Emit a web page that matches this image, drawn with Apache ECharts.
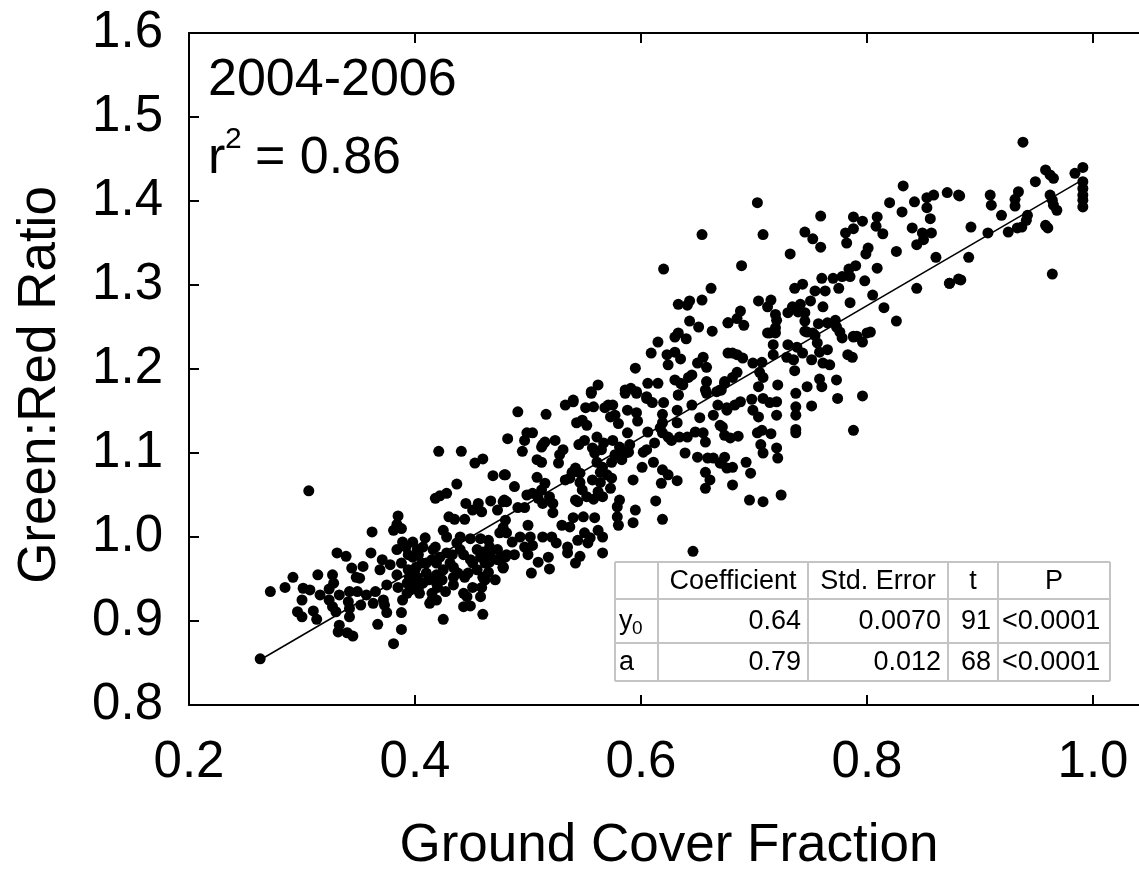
<!DOCTYPE html>
<html>
<head>
<meta charset="utf-8">
<script src="https://cdn.jsdelivr.net/npm/echarts@6/dist/echarts.min.js"></script>
<style>html,body{margin:0;padding:0;background:#fff;}#chart{width:1139px;height:872px;}</style>
</head>
<body>
<div id="chart"></div>
<script>
// ---- data ----
const xAxisTitle = 'Ground Cover Fraction';
const yAxisTitle = 'Green:Red Ratio';
const periodLabel = '2004-2006';
const r2Value = '0.86';
const xRange = [0.2, 1.0407];
const yRange = [0.8, 1.6];
const xTicks = [0.2, 0.4, 0.6, 0.8, 1.0];
// regression line end points [groundCover, greenRed]
const fitLine = [[0.262, 0.853], [0.988, 1.423]];
// regression table
const tableHeader = ['', 'Coefficient', 'Std. Error', 't', 'P'];
const tableRowNames = ['y', 'a'];
const tableRowSubs = ['0', ''];
const tableCoef = ['0.64', '0.79'];
const tableStdErr = ['0.0070', '0.012'];
const tableT = ['91', '68'];
const tableP = ['<0.0001', '<0.0001'];
// scatter points [groundCover, greenRed]
const scatterPoints = [
[0.263,0.855],[0.306,1.055],[0.272,0.935],[0.285,0.940],[0.292,0.952],[0.296,0.911],[0.300,0.905],[0.300,0.925],[0.301,0.939],[0.307,0.937],
[0.310,0.912],[0.314,0.955],[0.313,0.902],[0.316,0.931],[0.324,0.938],[0.327,0.955],[0.328,0.945],[0.324,0.925],[0.327,0.917],[0.330,0.911],
[0.333,0.931],[0.331,0.981],[0.339,0.977],[0.333,0.895],[0.332,0.887],[0.340,0.886],[0.345,0.882],[0.342,0.905],[0.342,0.915],[0.341,0.923],
[0.342,0.935],[0.344,0.963],[0.348,0.952],[0.351,0.951],[0.349,0.935],[0.352,0.919],[0.354,0.965],[0.357,0.931],[0.361,0.981],[0.362,1.006],
[0.363,0.921],[0.365,0.935],[0.367,0.896],[0.369,0.961],[0.371,0.973],[0.372,0.925],[0.373,0.919],[0.375,0.910],[0.375,0.943],[0.378,0.967],
[0.381,1.008],[0.381,0.873],[0.384,0.985],[0.385,1.025],[0.384,1.015],[0.388,1.010],[0.388,0.910],[0.388,0.890],[0.389,0.994],[0.388,0.969],
[0.384,0.955],[0.385,0.940],[0.389,0.925],[0.393,0.945],[0.394,0.961],[0.396,0.937],[0.398,0.994],[0.398,0.976],[0.402,0.985],[0.401,0.964],
[0.402,0.952],[0.403,0.940],[0.404,0.933],[0.407,0.988],[0.409,0.999],[0.410,0.969],[0.412,0.949],[0.413,0.921],[0.415,0.925],[0.416,0.985],
[0.418,0.988],[0.418,1.046],[0.422,1.049],[0.421,1.102],[0.419,0.955],[0.420,0.940],[0.425,0.902],[0.425,1.008],[0.428,1.052],[0.428,1.000],
[0.430,1.024],[0.433,0.979],[0.434,0.964],[0.434,0.952],[0.435,1.021],[0.437,1.063],[0.440,1.000],[0.441,1.102],[0.443,0.979],[0.444,1.021],
[0.445,1.040],[0.446,0.929],[0.447,0.957],[0.449,0.918],[0.449,0.998],[0.451,1.032],[0.451,0.969],[0.453,1.088],[0.456,1.040],[0.458,0.998],
[0.459,1.030],[0.460,1.093],[0.460,0.908],[0.460,0.952],[0.462,0.949],[0.467,1.043],[0.469,1.073],[0.473,1.032],[0.478,0.963],[0.479,1.074],
[0.479,1.044],[0.465,0.996],[0.466,0.988],[0.475,1.005],[0.478,1.011],[0.473,0.985],[0.481,0.979],[0.477,0.975],[0.458,0.976],[0.462,0.969],
[0.466,0.970],[0.449,0.973],[0.444,0.952],[0.438,0.957],[0.431,0.969],[0.428,0.981],[0.422,0.976],[0.419,0.969],[0.425,0.961],[0.415,0.973],
[0.410,0.957],[0.407,0.945],[0.419,0.945],[0.424,0.949],[0.427,0.935],[0.415,0.933],[0.419,0.925],[0.395,0.952],[0.393,0.933],[0.398,0.945],
[0.400,0.961],[0.406,0.969],[0.403,0.979],[0.394,0.979],[0.392,0.988],[0.443,0.933],[0.451,0.940],[0.434,0.943],[0.440,0.985],[0.437,0.993],
[0.455,0.985],[0.460,0.982],[0.466,0.979],[0.473,0.973],[0.478,0.964],[0.455,0.961],[0.465,0.958],[0.471,0.949],[0.459,0.940],[0.458,0.929],
[0.443,0.917],
[0.491,1.149],[0.516,1.146],[0.533,1.157],[0.540,1.161],[0.556,1.171],[0.543,1.136],[0.548,1.139],[0.552,1.133],[0.551,1.154],[0.558,1.155],
[0.568,1.154],[0.571,1.157],[0.575,1.157],[0.573,1.143],[0.577,1.145],[0.580,1.135],[0.588,1.151],[0.586,1.171],[0.596,1.171],[0.596,1.148],
[0.597,1.138],[0.605,1.165],[0.610,1.160],[0.620,1.160],[0.633,1.169],[0.632,1.151],[0.619,1.146],[0.619,1.136],[0.617,1.130],[0.619,1.124],
[0.624,1.119],[0.627,1.115],[0.632,1.136],[0.634,1.119],[0.639,1.100],[0.645,1.157],[0.652,1.142],[0.655,1.124],[0.648,1.125],[0.641,1.119],
[0.657,1.113],[0.650,1.095],[0.659,1.094],[0.664,1.094],[0.670,1.088],[0.664,1.145],[0.670,1.133],[0.668,1.157],[0.676,1.151],[0.658,1.171],
[0.667,1.173],[0.657,1.077],[0.661,1.068],[0.657,1.058],[0.676,1.082],[0.632,1.067],[0.619,1.080],[0.624,1.074],[0.618,1.064],[0.611,1.089],
[0.601,1.083],[0.605,1.104],[0.612,1.112],[0.606,1.125],[0.602,1.101],[0.593,1.068],[0.595,1.032],[0.593,1.017],[0.613,1.043],[0.619,1.021],
[0.646,0.983],[0.588,1.124],[0.590,1.110],[0.586,1.100],[0.583,1.092],[0.589,1.101],[0.581,1.107],[0.575,1.115],[0.577,1.098],[0.574,1.089],
[0.567,1.112],[0.565,1.104],[0.561,1.119],[0.557,1.106],[0.559,1.100],[0.561,1.089],[0.564,1.077],[0.566,1.083],[0.570,1.074],[0.574,1.070],
[0.573,1.058],[0.564,1.065],[0.557,1.068],[0.562,1.054],[0.566,1.048],[0.558,1.045],[0.550,1.115],[0.545,1.110],[0.542,1.082],[0.546,1.076],
[0.546,1.065],[0.548,1.056],[0.544,1.042],[0.552,1.048],[0.537,1.070],[0.533,1.068],[0.539,1.077],[0.531,1.104],[0.528,1.098],[0.527,1.088],
[0.524,1.115],[0.515,1.113],[0.512,1.107],[0.513,1.110],[0.508,1.092],[0.512,1.089],[0.499,1.124],[0.504,1.124],[0.497,1.115],[0.495,1.102],
[0.482,1.117],[0.480,1.074],[0.488,1.060],[0.508,1.071],[0.515,1.064],[0.512,1.056],[0.499,1.050],[0.504,1.052],[0.509,1.046],[0.513,1.040],
[0.519,1.048],[0.522,1.040],[0.522,1.029],[0.491,1.035],[0.497,1.035],[0.478,1.042],[0.481,1.042],[0.480,1.020],[0.481,1.005],[0.486,0.994],
[0.493,1.000],[0.500,1.014],[0.502,1.000],[0.497,0.988],[0.504,0.990],[0.500,0.979],[0.488,0.979],[0.480,0.976],[0.478,0.964],[0.509,0.970],
[0.518,0.976],[0.519,0.962],[0.503,0.957],[0.513,1.000],[0.521,1.000],[0.525,0.993],[0.530,1.014],[0.535,0.988],[0.537,1.012],[0.535,0.981],
[0.540,1.023],[0.542,0.969],[0.544,0.996],[0.546,0.977],[0.549,1.024],[0.550,1.005],[0.553,0.993],[0.555,0.999],[0.559,1.023],[0.562,1.008],
[0.566,1.000],[0.566,0.981],[0.542,1.044],[0.579,1.036],[0.581,1.044],[0.579,1.024],[0.580,1.014],
[0.654,1.360],[0.620,1.319],[0.662,1.296],[0.654,1.282],[0.633,1.277],[0.641,1.276],[0.643,1.281],[0.643,1.257],[0.651,1.250],[0.663,1.245],
[0.677,1.255],[0.615,1.232],[0.630,1.238],[0.633,1.243],[0.640,1.236],[0.609,1.219],[0.623,1.217],[0.630,1.220],[0.635,1.212],[0.624,1.205],
[0.655,1.214],[0.650,1.207],[0.658,1.202],[0.677,1.219],[0.595,1.201],[0.645,1.193],[0.642,1.190],[0.630,1.187],[0.635,1.183],[0.637,1.181],
[0.658,1.185],[0.606,1.183],[0.615,1.183],[0.562,1.181],[0.556,1.173],[0.586,1.175],[0.591,1.177],[0.596,1.173],[0.605,1.167],[0.633,1.169],
[0.657,1.175],[0.670,1.175],[0.674,1.183],[0.540,1.163],
[0.714,1.243],[0.719,1.243],[0.747,1.244],[0.754,1.240],[0.776,1.244],[0.788,1.238],[0.800,1.243],[0.796,1.232],[0.778,1.237],[0.717,1.229],
[0.730,1.229],[0.738,1.226],[0.743,1.219],[0.717,1.217],[0.729,1.214],[0.735,1.211],[0.756,1.231],[0.758,1.220],[0.765,1.223],[0.751,1.211],
[0.761,1.207],[0.767,1.205],[0.783,1.217],[0.787,1.214],[0.681,1.219],[0.685,1.217],[0.690,1.213],[0.699,1.207],[0.707,1.208],[0.705,1.196],
[0.708,1.190],[0.685,1.196],[0.681,1.190],[0.674,1.185],[0.671,1.175],[0.736,1.198],[0.758,1.188],[0.773,1.187],[0.760,1.179],[0.747,1.179],
[0.721,1.181],[0.704,1.179],[0.737,1.171],[0.774,1.165],[0.796,1.168],[0.751,1.156],[0.698,1.164],[0.708,1.165],[0.714,1.160],[0.720,1.161],
[0.688,1.161],[0.683,1.157],[0.676,1.154],[0.699,1.151],[0.704,1.143],[0.720,1.145],[0.737,1.155],[0.737,1.145],[0.672,1.131],[0.674,1.121],
[0.679,1.118],[0.686,1.120],[0.703,1.124],[0.707,1.127],[0.715,1.123],[0.737,1.128],[0.737,1.124],[0.788,1.127],[0.706,1.110],[0.708,1.100],
[0.720,1.106],[0.721,1.094],[0.674,1.095],[0.671,1.088],[0.681,1.083],[0.693,1.089],[0.697,1.076],[0.681,1.062],[0.696,1.044],[0.708,1.042],
[0.724,1.050],
[0.832,1.418],[0.703,1.398],[0.759,1.382],[0.820,1.398],[0.831,1.387],[0.842,1.399],[0.853,1.404],[0.859,1.407],[0.871,1.410],[0.881,1.407],
[0.853,1.392],[0.856,1.379],[0.788,1.381],[0.796,1.376],[0.809,1.381],[0.808,1.370],[0.814,1.361],[0.788,1.367],[0.781,1.362],[0.782,1.350],
[0.840,1.368],[0.849,1.362],[0.857,1.362],[0.850,1.354],[0.844,1.348],[0.745,1.363],[0.752,1.355],[0.759,1.345],[0.708,1.360],[0.732,1.337],
[0.801,1.344],[0.799,1.337],[0.826,1.340],[0.861,1.333],[0.689,1.323],[0.790,1.323],[0.784,1.319],[0.809,1.320],[0.760,1.308],[0.770,1.308],
[0.778,1.310],[0.785,1.310],[0.798,1.305],[0.775,1.296],[0.736,1.296],[0.743,1.301],[0.754,1.293],[0.763,1.293],[0.805,1.288],[0.844,1.296],
[0.873,1.302],[0.881,1.307],[0.750,1.281],[0.741,1.277],[0.734,1.274],[0.785,1.279],[0.761,1.274],[0.704,1.281],[0.715,1.282],[0.712,1.274],
[0.688,1.269],[0.685,1.260],[0.677,1.255],[0.691,1.252],[0.719,1.265],[0.720,1.258],[0.730,1.267],[0.739,1.268],[0.745,1.267],[0.745,1.257],
[0.815,1.273],[0.826,1.257],[0.757,1.254],[0.765,1.255],[0.772,1.258],[0.773,1.250],[0.712,1.243],[0.719,1.249],[0.745,1.245],[0.752,1.243],
[0.803,1.244],[0.788,1.239],[0.791,1.239],
[0.938,1.470],[0.958,1.437],[0.962,1.431],[0.965,1.427],[0.984,1.433],[0.991,1.440],[0.991,1.423],[0.991,1.415],[0.991,1.407],[0.991,1.401],
[0.991,1.393],[0.949,1.423],[0.882,1.406],[0.909,1.407],[0.910,1.395],[0.934,1.411],[0.931,1.402],[0.931,1.394],[0.962,1.407],[0.964,1.401],
[0.965,1.395],[0.968,1.389],[0.919,1.383],[0.942,1.383],[0.941,1.377],[0.937,1.369],[0.933,1.368],[0.925,1.363],[0.907,1.362],[0.892,1.369],
[0.958,1.371],[0.960,1.368],[0.890,1.333],[0.883,1.306],[0.873,1.302],[0.964,1.313]
];

// ---- chart ----
const FONT = '"Liberation Sans", Arial, Helvetica, sans-serif';
const chart = echarts.init(document.getElementById('chart'), null, {renderer: 'canvas'});

// table graphic built from arrays
const colEdges = [615, 658, 808, 948, 998, 1110];
const rowEdges = [562, 599, 643, 681];
const tableEls = [];
const lineStyle = {stroke: '#c4c4c4', lineWidth: 2};
colEdges.forEach(x => tableEls.push({type: 'line', shape: {x1: x, y1: rowEdges[0], x2: x, y2: rowEdges[3]}, style: lineStyle, silent: true}));
rowEdges.forEach(y => tableEls.push({type: 'line', shape: {x1: colEdges[0], y1: y, x2: colEdges[5], y2: y}, style: lineStyle, silent: true}));
const tFont = '27px ' + FONT;
function cellText(text, col, row, align) {
  const x0 = colEdges[col], x1 = colEdges[col + 1];
  const yc = (rowEdges[row] + rowEdges[row + 1]) / 2 + 1;
  let x = align === 'left' ? x0 + 4 : align === 'right' ? x1 - 7 : (x0 + x1) / 2;
  tableEls.push({type: 'text', x: x, y: yc, silent: true,
    style: {text: text, font: tFont, fill: '#000', align: align, verticalAlign: 'middle'}});
}
tableHeader.forEach((h, i) => { if (h) cellText(h, i, 0, 'center'); });
for (let r = 0; r < 2; r++) {
  cellText(tableRowNames[r], 0, r + 1, 'left');
  if (tableRowSubs[r]) {
    tableEls.push({type: 'text', x: colEdges[0] + 17, y: (rowEdges[r + 1] + rowEdges[r + 2]) / 2 + 8, silent: true,
      style: {text: tableRowSubs[r], font: '19px ' + FONT, fill: '#000', align: 'left', verticalAlign: 'middle'}});
  }
  cellText(tableCoef[r], 1, r + 1, 'right');
  cellText(tableStdErr[r], 2, r + 1, 'right');
  cellText(tableT[r], 3, r + 1, 'right');
  cellText(tableP[r], 4, r + 1, 'left');
}

const bigFont = '52px ' + FONT;
const titleFont = '53px ' + FONT;
const xAxisCommon = {
  type: 'value', min: xRange[0], max: xRange[1],
  axisLine: {show: true, onZero: false, lineStyle: {color: '#000', width: 2}},
  axisTick: {show: true, inside: true, length: 10, customValues: xTicks, lineStyle: {color: '#000', width: 2}},
  splitLine: {show: false}
};
const option = {
  animation: false,
  backgroundColor: '#ffffff',
  grid: {left: 189, top: 33, right: 0, bottom: 167, containLabel: false},
  xAxis: [Object.assign({}, xAxisCommon, {
    position: 'bottom',
    axisLabel: {show: true, color: '#000', fontSize: 51, fontFamily: FONT, margin: 32,
      customValues: xTicks, formatter: v => v.toFixed(1)}
  }), Object.assign({}, xAxisCommon, {
    position: 'top', axisLabel: {show: false}
  })],
  yAxis: [{
    type: 'value', min: yRange[0], max: yRange[1], interval: 0.1,
    axisLine: {show: true, onZero: false, lineStyle: {color: '#000', width: 2}},
    axisTick: {show: true, inside: true, length: 10, lineStyle: {color: '#000', width: 2}},
    axisLabel: {show: true, color: '#000', fontSize: 51, fontFamily: FONT, margin: 26,
      formatter: v => v.toFixed(1)},
    splitLine: {show: false}
  }],
  series: [{
    type: 'scatter', xAxisIndex: 0, yAxisIndex: 0, data: scatterPoints,
    symbol: 'circle', symbolSize: 11, itemStyle: {color: '#000', opacity: 1}, silent: true
  }, {
    type: 'line', xAxisIndex: 0, yAxisIndex: 0, data: fitLine, showSymbol: false,
    lineStyle: {color: '#000', width: 1.5}, silent: true
  }],
  graphic: [
    {type: 'text', x: 208, y: 81, silent: true,
      style: {text: periodLabel, font: bigFont, fill: '#000', align: 'left', verticalAlign: 'middle'}},
    {type: 'text', x: 208, y: 159, silent: true,
      style: {text: 'r', font: bigFont, fill: '#000', align: 'left', verticalAlign: 'middle'}},
    {type: 'text', x: 225, y: 140, silent: true,
      style: {text: '2', font: '30px ' + FONT, fill: '#000', align: 'left', verticalAlign: 'middle'}},
    {type: 'text', x: 255, y: 159, silent: true,
      style: {text: '= ' + r2Value, font: bigFont, fill: '#000', align: 'left', verticalAlign: 'middle'}},
    {type: 'text', x: 669, y: 846, silent: true,
      style: {text: xAxisTitle, font: titleFont, fill: '#000', align: 'center', verticalAlign: 'middle'}},
    {type: 'text', x: 40, y: 385, rotation: Math.PI / 2, silent: true,
      style: {text: yAxisTitle, font: titleFont, fill: '#000', align: 'center', verticalAlign: 'middle'}},
    {type: 'group', children: tableEls}
  ]
};
chart.setOption(option);
</script>
</body>
</html>
